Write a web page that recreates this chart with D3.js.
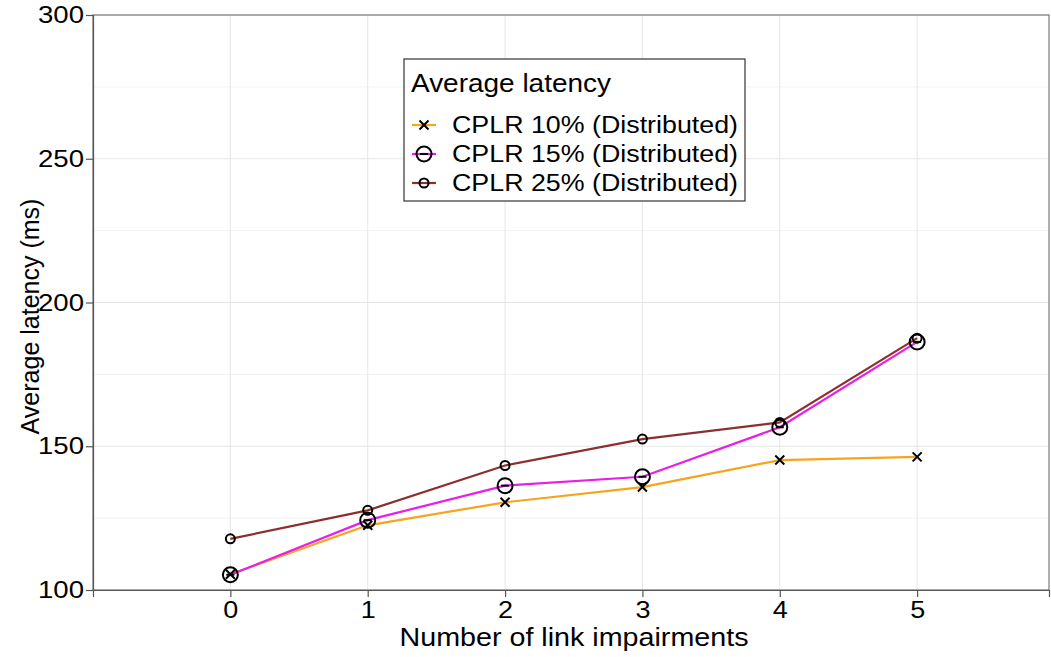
<!DOCTYPE html>
<html>
<head>
<meta charset="utf-8">
<script src="https://cdn.jsdelivr.net/npm/d3@7"></script>
<style>
  body { margin: 0; background: #fff; }
  text { font-family: "Liberation Sans", Arial, sans-serif; fill: #000; }
</style>
</head>
<body>
<svg width="1051" height="657"></svg>
<script>
// data
var impairments = [0, 1, 2, 3, 4, 5];
var cplr10 = [105.5, 122.5, 130.5, 135.8, 145.2, 146.3];
var cplr15 = [105.3, 124.3, 136.3, 139.4, 156.6, 186.3];
var cplr25 = [117.8, 127.7, 143.3, 152.5, 158.3, 187.6];
var seriesNames = ['CPLR 10% (Distributed)', 'CPLR 15% (Distributed)', 'CPLR 25% (Distributed)'];
var seriesColors = ['#f5a41d', '#e81ee8', '#8c2f2f'];
var seriesShapes = ['cross', 'bigCircle', 'smallCircle'];
var yTicks = [100, 150, 200, 250, 300];
var yMinor = [125, 175, 225, 275];

var svg = d3.select('svg');
var margin = { left: 93, right: 2, top: 15, bottom: 67 };
var width = 1051 - margin.left - margin.right;
var height = 657 - margin.top - margin.bottom;

var x = d3.scaleLinear().domain([-1, 5.96]).range([margin.left, margin.left + width]);
var y = d3.scaleLinear().domain([100, 300]).range([margin.top + height, margin.top]);

var g = svg.append('g');

// grid
g.selectAll('.minor').data(yMinor).enter().append('line')
    .attr('x1', margin.left).attr('x2', margin.left + width)
    .attr('y1', d => y(d)).attr('y2', d => y(d))
    .attr('stroke', '#f2f2f2').attr('stroke-width', 1);
g.selectAll('.majorY').data(yTicks).enter().append('line')
    .attr('x1', margin.left).attr('x2', margin.left + width)
    .attr('y1', d => y(d)).attr('y2', d => y(d))
    .attr('stroke', '#e6e6e6').attr('stroke-width', 1);
g.selectAll('.majorX').data(impairments).enter().append('line')
    .attr('x1', d => x(d)).attr('x2', d => x(d))
    .attr('y1', y(100)).attr('y2', y(300))
    .attr('stroke', '#e6e6e6').attr('stroke-width', 1);

// border
g.append('rect')
    .attr('x', margin.left).attr('y', y(300))
    .attr('width', width).attr('height', height)
    .attr('fill', 'none').attr('stroke', '#7a7a7a').attr('stroke-width', 1.2);

// axes
var yAxis = svg.append('g').attr('transform', 'translate(' + margin.left + ',0)')
    .call(d3.axisLeft(y).tickValues(yTicks).tickFormat(d3.format('d')).tickSize(7).tickPadding(2));
var xAxis = svg.append('g').attr('transform', 'translate(0,' + y(100) + ')')
    .call(d3.axisBottom(x).tickValues(impairments).tickFormat(d3.format('d')).tickSize(7).tickPadding(4));
[yAxis, xAxis].forEach(function (a) {
    a.select('.domain').attr('stroke', '#555').attr('stroke-width', 1.2);
    a.selectAll('.tick line').attr('stroke', '#555').attr('stroke-width', 1.2);
    a.selectAll('.tick text').style('font-size', '24px').style('font-family', '"Liberation Sans", Arial, sans-serif').attr('fill', '#000');
});
yAxis.selectAll('.tick text').attr('textLength', 46).attr('lengthAdjust', 'spacingAndGlyphs');
xAxis.selectAll('.tick text').attr('textLength', 15).attr('lengthAdjust', 'spacingAndGlyphs');

svg.append('text')
    .attr('x', 574).attr('y', 646)
    .attr('text-anchor', 'middle')
    .style('font-size', '26px')
    .attr('textLength', 349).attr('lengthAdjust', 'spacingAndGlyphs')
    .text('Number of link impairments');
svg.append('text')
    .attr('transform', 'translate(39,' + (y(200) + 14) + ') rotate(-90)')
    .attr('text-anchor', 'middle')
    .style('font-size', '25px')
    .text('Average latency (ms)');

// lines and points
var allSeries = [cplr10, cplr15, cplr25];
var line = d3.line().x((d, i) => x(impairments[i])).y(d => y(d));

function drawShape(sel, shape, cx, cy) {
    if (shape === 'cross') {
        var s = 4.5;
        sel.append('path')
            .attr('d', 'M' + (cx - s) + ',' + (cy - s) + 'L' + (cx + s) + ',' + (cy + s) +
                'M' + (cx - s) + ',' + (cy + s) + 'L' + (cx + s) + ',' + (cy - s))
            .attr('stroke', '#000').attr('stroke-width', 2).attr('fill', 'none');
    } else if (shape === 'bigCircle') {
        sel.append('circle').attr('cx', cx).attr('cy', cy).attr('r', 7.5)
            .attr('fill', 'none').attr('stroke', '#000').attr('stroke-width', 2);
        sel.append('line').attr('x1', cx - 4).attr('x2', cx + 4).attr('y1', cy).attr('y2', cy)
            .attr('stroke', '#000').attr('stroke-width', 2);
    } else {
        sel.append('circle').attr('cx', cx).attr('cy', cy).attr('r', 4.5)
            .attr('fill', 'none').attr('stroke', '#000').attr('stroke-width', 2);
    }
}

allSeries.forEach(function (vals, si) {
    svg.append('path').datum(vals)
        .attr('d', line)
        .attr('fill', 'none')
        .attr('stroke', seriesColors[si])
        .attr('stroke-width', 2.2);
});
allSeries.forEach(function (vals, si) {
    var pg = svg.append('g');
    vals.forEach(function (v, i) {
        drawShape(pg, seriesShapes[si], x(impairments[i]), y(v));
    });
});

// legend
var lg = svg.append('g').attr('transform', 'translate(404,59)');
lg.append('rect').attr('width', 341).attr('height', 142)
    .attr('fill', '#fff').attr('stroke', '#333').attr('stroke-width', 1.2);
lg.append('text').attr('x', 7).attr('y', 33).style('font-size', '25px')
    .attr('textLength', 200).attr('lengthAdjust', 'spacingAndGlyphs')
    .text('Average latency');
seriesNames.forEach(function (name, i) {
    var cy = 66 + i * 29;
    lg.append('line').attr('x1', 8).attr('x2', 32).attr('y1', cy).attr('y2', cy)
        .attr('stroke', seriesColors[i]).attr('stroke-width', 2.2);
    drawShape(lg, seriesShapes[i], 20, cy);
    lg.append('text').attr('x', 48).attr('y', cy + 8).style('font-size', '23px')
        .attr('textLength', 286).attr('lengthAdjust', 'spacingAndGlyphs')
        .text(name);
});
</script>
</body>
</html>
